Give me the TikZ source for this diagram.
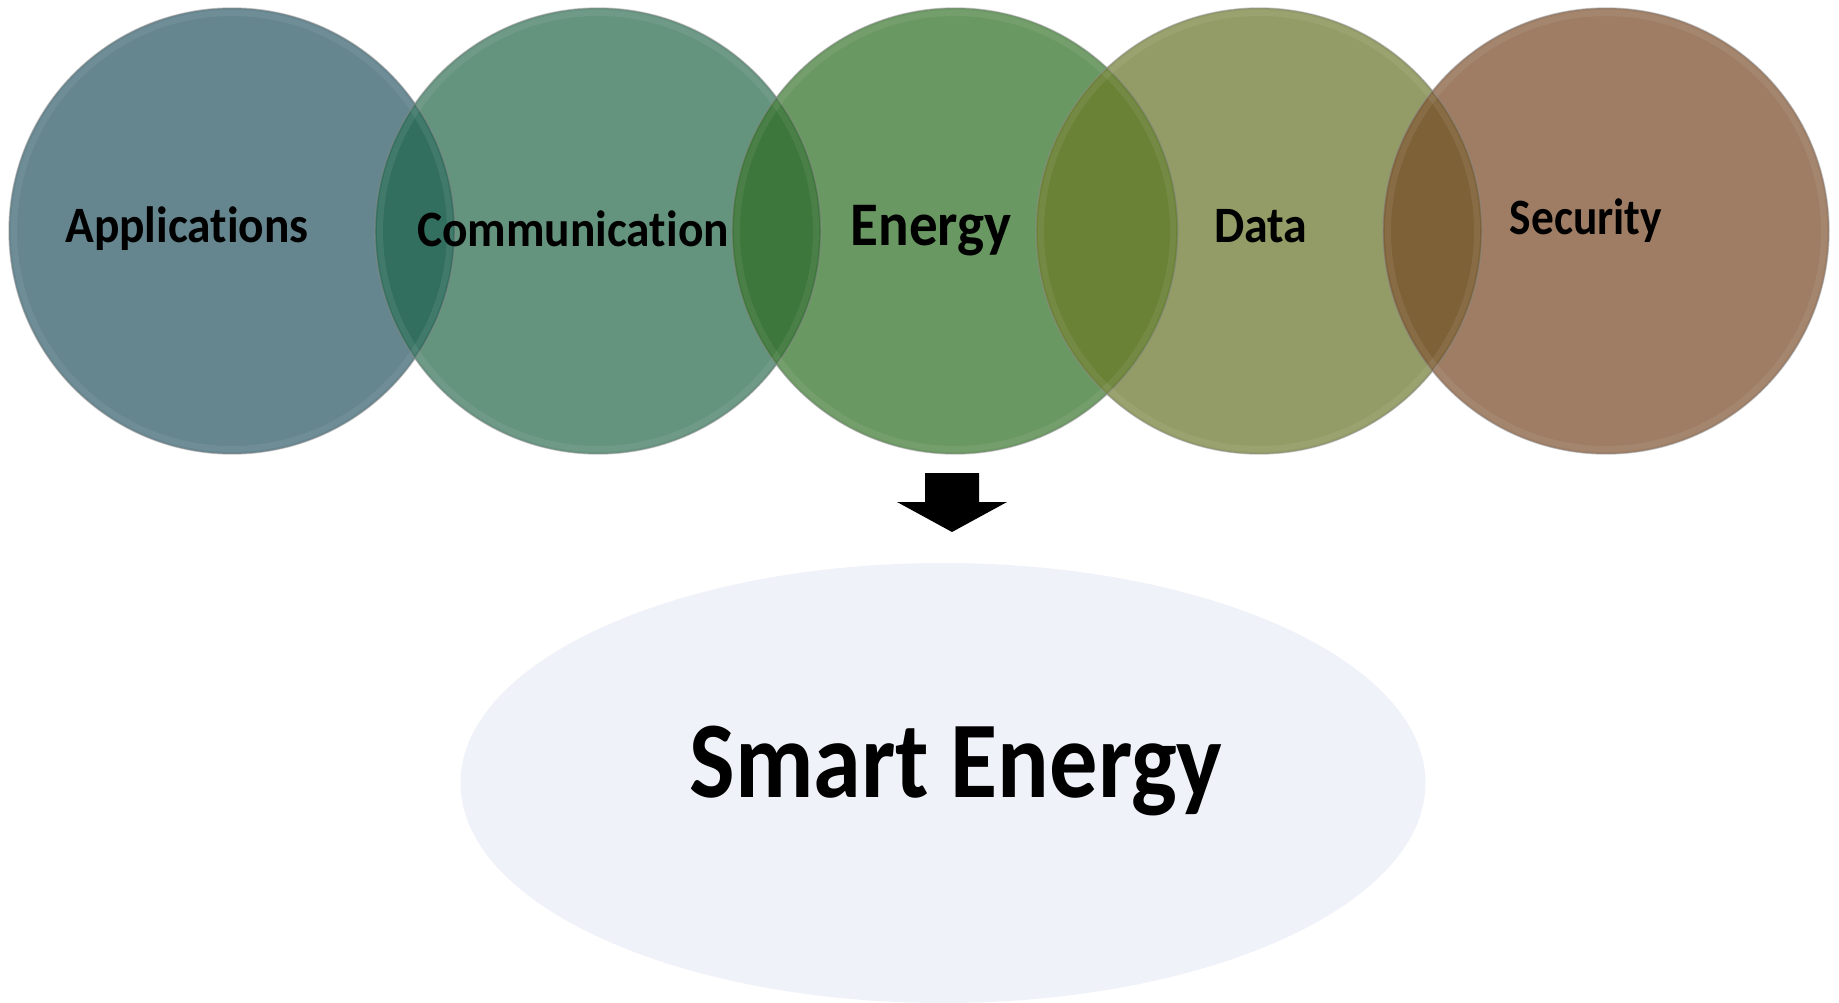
\documentclass[tikz,border=0pt]{standalone}
\usepackage{graphicx}
\usepackage{fontspec}
\setmainfont{Carlito}[Ligatures=NoCommon]
\usetikzlibrary{shapes.geometric}
\begin{document}
\begin{tikzpicture}[x=1pt,y=-1pt,
  lab/.style={anchor=base,inner sep=0pt,font=\bfseries\fontsize{51}{60}\selectfont},
  rim/.style={draw=black!45,draw opacity=0.5,line width=1.4pt}]
\useasboundingbox (0,0) rectangle (1839,1003);
\definecolor{cA}{HTML}{65858F}
\definecolor{cB}{HTML}{64937E}
\definecolor{cC}{HTML}{6A9862}
\definecolor{cD}{HTML}{939B66}
\definecolor{cE}{HTML}{9E7D64}
\definecolor{oAB}{HTML}{336F5F}
\definecolor{oBC}{HTML}{3D773B}
\definecolor{oCD}{HTML}{6A8236}
\definecolor{oDE}{HTML}{7E6137}
\definecolor{ellfill}{HTML}{EFF2F8}
\coordinate (pA) at (232,231);
\coordinate (pB) at (598,231);
\coordinate (pC) at (955,231);
\coordinate (pD) at (1259,231);
\coordinate (pE) at (1606,231);
% circle fills
\fill[cA] (pA) circle[radius=223pt];
\fill[cB] (pB) circle[radius=223pt];
\fill[cC] (pC) circle[radius=223pt];
\fill[cD] (pD) circle[radius=223pt];
\fill[cE] (pE) circle[radius=223pt];
% overlaps
\begin{scope}\clip (pA) circle[radius=223pt]; \fill[oAB] (pB) circle[radius=223pt];\end{scope}
\begin{scope}\clip (pB) circle[radius=223pt]; \fill[oBC] (pC) circle[radius=223pt];\end{scope}
\begin{scope}\clip (pC) circle[radius=223pt]; \fill[oCD] (pD) circle[radius=223pt];\end{scope}
\begin{scope}\clip (pD) circle[radius=223pt]; \fill[oDE] (pE) circle[radius=223pt];\end{scope}
% rims
\foreach \p in {pA,pB,pC,pD,pE}{
  \draw[rim] (\p) circle[radius=223pt];
  \draw[white,opacity=0.07,line width=6pt] (\p) circle[radius=218pt];
}
% labels
\node[lab] (tA) at (187,243) {\scalebox{0.93}[1]{Applications}};
\node[lab] (tB) at (573,247) {\scalebox{0.93}[1]{Communication}};
\node[lab,font=\bfseries\fontsize{62}{70}\selectfont] (tC) at (931,245) {\scalebox{0.92}[1]{Energy}};
\node[lab] (tD) at (1261,242) {\scalebox{0.94}[1]{Data}};
\node[lab] (tE) at (1586,235) {\scalebox{0.89}[1]{Security}};
% block arrow
\fill[black] (925,473) -- (979,473) -- (979,502) -- (1007,502) -- (952,532) -- (897,502) -- (925,502) -- cycle;
% ellipse
\node[ellipse,fill=ellfill,minimum width=965pt,minimum height=440pt,inner sep=0pt] (se) at (943,783) {};
\node[anchor=base,inner sep=0pt,font=\bfseries\fontsize{109}{120}\selectfont] (st) at (956,797) {\scalebox{0.885}[1]{Smart Energy}};
\end{tikzpicture}
\end{document}
